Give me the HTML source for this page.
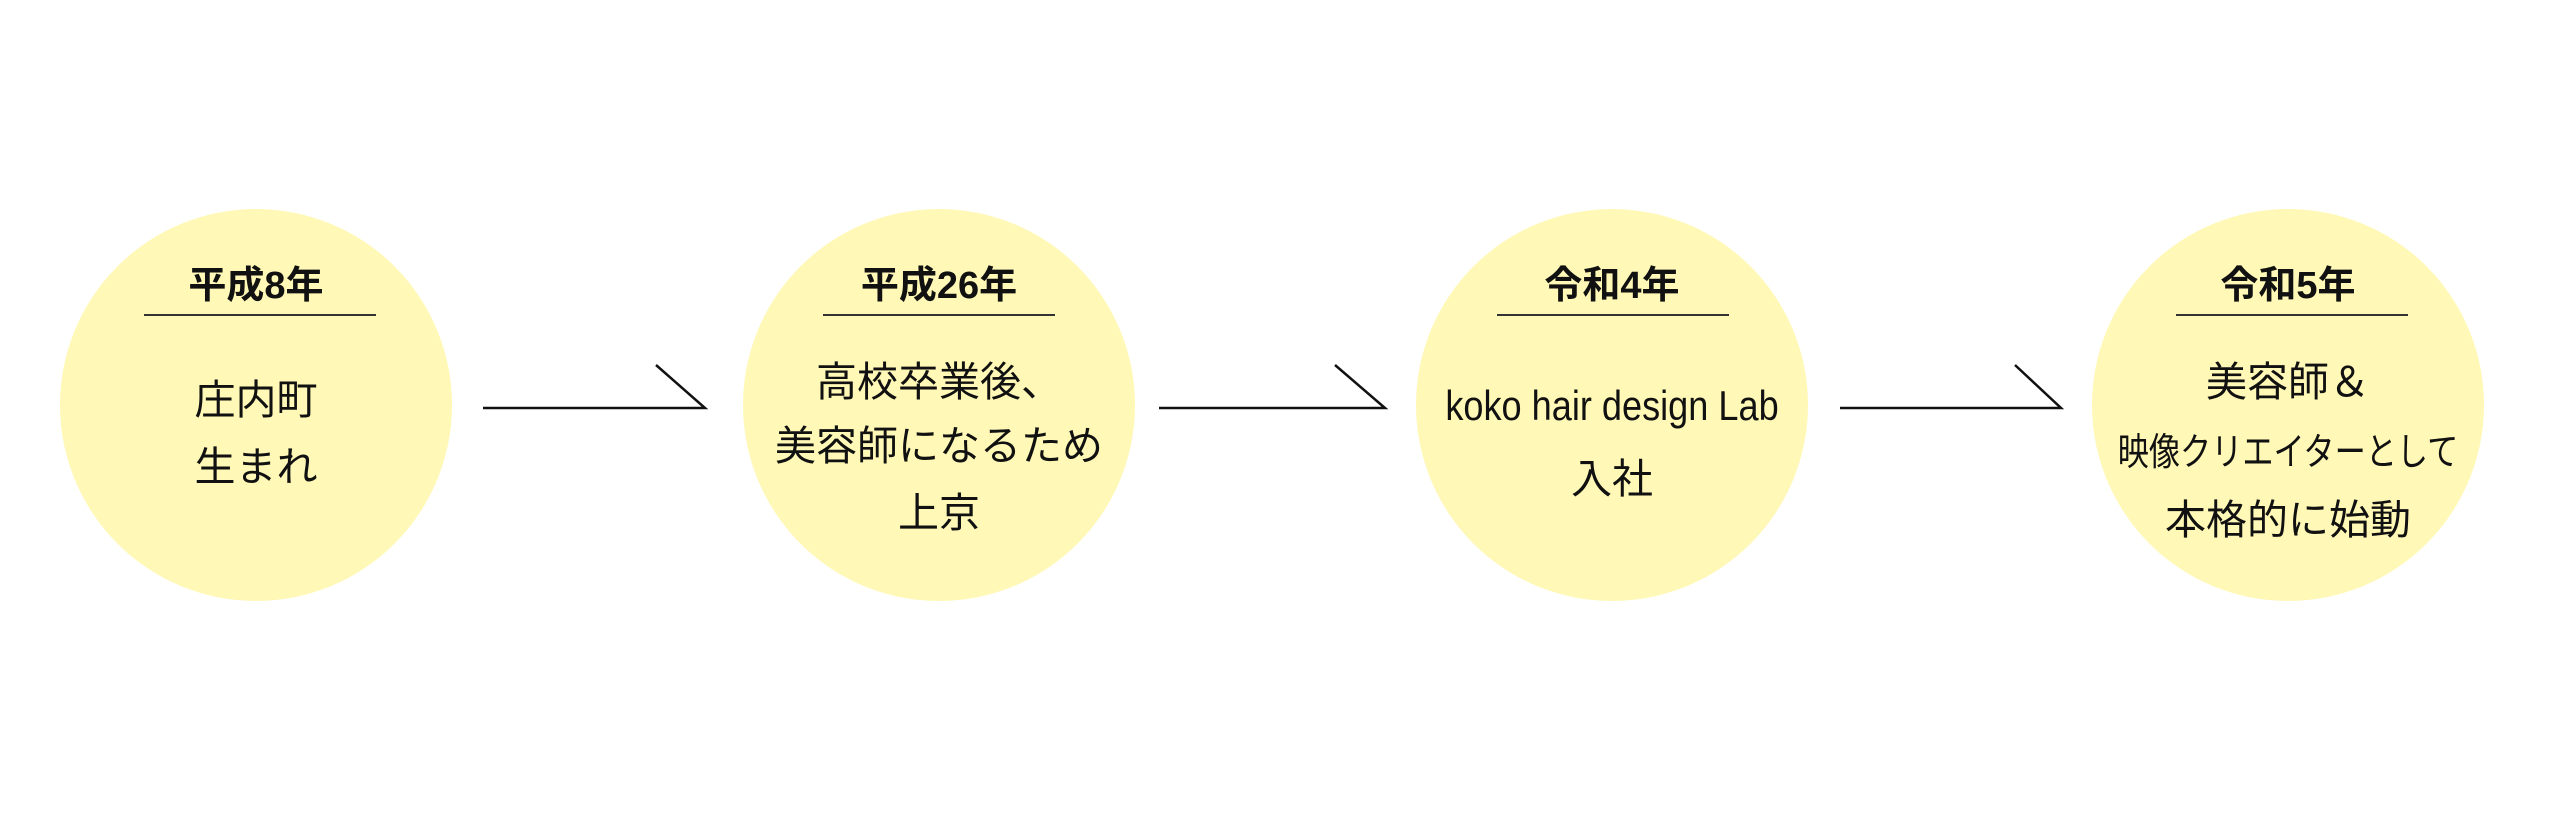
<!DOCTYPE html>
<html><head><meta charset="utf-8"><style>
html,body{margin:0;padding:0;background:#fff;}
body{width:2560px;height:817px;position:relative;overflow:hidden;font-family:"Liberation Sans","Noto Sans CJK JP",sans-serif;color:#111;}
.c{position:absolute;width:392px;height:392px;border-radius:50%;background:#fff8b6;top:209px;}
.t{position:absolute;width:600px;text-align:center;white-space:nowrap;line-height:1;}
.h{font-weight:bold;font-size:38px;}
.b{font-size:41px;font-family:"Noto Sans CJK JP",sans-serif;line-height:1;}
.u{position:absolute;height:2px;background:#333;width:232px;top:314px;}
</style></head><body>
<div class="c" style="left:60px"></div>
<div class="c" style="left:743px"></div>
<div class="c" style="left:1416px"></div>
<div class="c" style="left:2092px"></div>

<svg width="2560" height="817" style="position:absolute;left:0;top:0">
<g stroke="#111" stroke-width="2.5" fill="none">
<polyline points="483,408 705,408 656,365"/>
<polyline points="1159,408 1385,408 1335,365"/>
<polyline points="1840,408 2061,408 2015,365"/>
</g></svg>

<div class="t h" style="left:-44px;top:267px">平成8年</div>
<div class="u" style="left:144px"></div>
<div class="t b" style="left:-44px;top:376px">庄内町</div>
<div class="t b" style="left:-44px;top:443px">生まれ</div>

<div class="t h" style="left:639px;top:267px">平成26年</div>
<div class="u" style="left:823px"></div>
<div class="t b" style="left:639px;top:358px">高校卒業後、</div>
<div class="t b" style="left:639px;top:422px">美容師になるため</div>
<div class="t b" style="left:639px;top:489px">上京</div>

<div class="t h" style="left:1312px;top:267px">令和4年</div>
<div class="u" style="left:1497px"></div>
<div class="t" style="left:1312px;top:385px;font-size:42px;transform:scaleX(0.86)">koko hair design Lab</div>
<div class="t b" style="left:1312px;top:455px">入社</div>

<div class="t h" style="left:1988px;top:267px">令和5年</div>
<div class="u" style="left:2176px"></div>
<div class="t b" style="left:1988px;top:358px">美容師＆</div>
<div class="t b" style="left:1988px;top:430px;font-size:38px;transform:scaleX(0.82)">映像クリエイターとして</div>
<div class="t b" style="left:1988px;top:496px">本格的に始動</div>
</body></html>
